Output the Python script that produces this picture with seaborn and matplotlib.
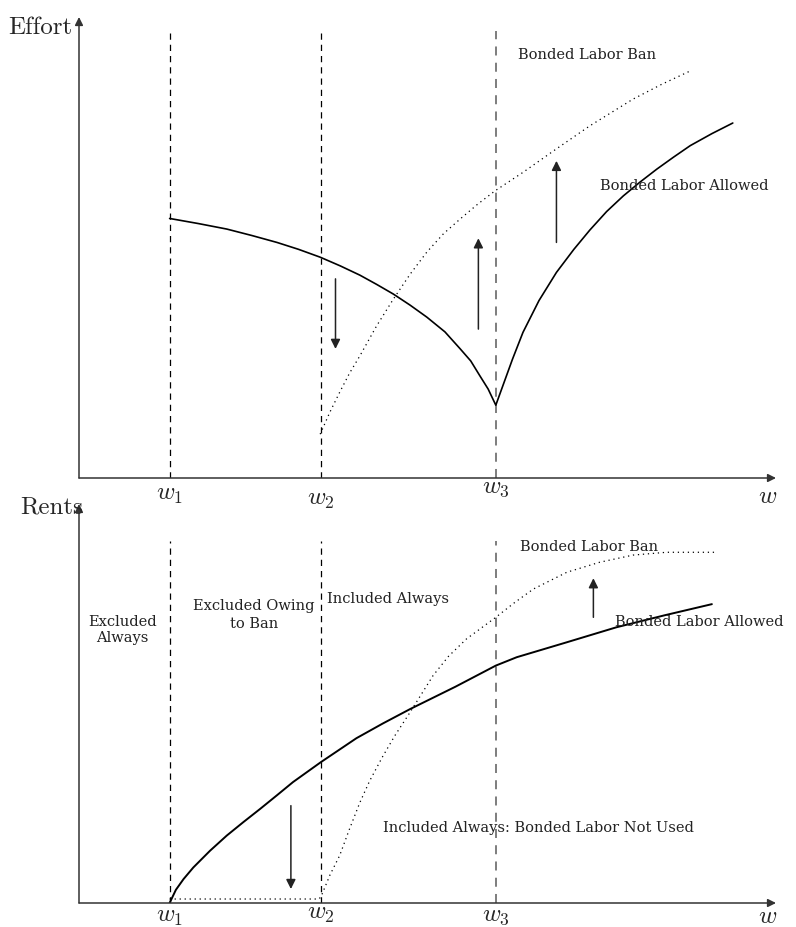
import seaborn as sns
import matplotlib.pyplot as plt
import pandas as pd
import numpy as np

# ========================================================
#                   DATA (axis units 0..10)
# ========================================================

w_pos = [1.30, 3.465, 5.98]
w_names = ["$w_1$", "$w_2$", "$w_3$"]

# top panel: effort
eff_allowed_x = [1.30, 1.71, 2.12, 2.48, 2.84, 3.15, 3.46, 3.75, 4.03, 4.27, 4.51, 4.75, 4.99, 5.25,
                 5.47, 5.62, 5.75, 5.87, 5.98,
                 6.10, 6.22, 6.37, 6.60, 6.85, 7.10, 7.33, 7.57, 7.81, 8.05, 8.29, 8.53, 8.77, 9.08, 9.38]
eff_allowed_y = [5.63, 5.52, 5.40, 5.26, 5.11, 4.96, 4.79, 4.60, 4.40, 4.20, 3.99, 3.75, 3.49, 3.17,
                 2.80, 2.54, 2.22, 1.93, 1.58,
                 2.08, 2.58, 3.16, 3.85, 4.46, 4.96, 5.38, 5.78, 6.12, 6.42, 6.70, 6.96, 7.21, 7.47, 7.70]
eff_ban_x = [3.46, 3.60, 3.74, 3.88, 4.03, 4.27, 4.51, 4.75, 4.99, 5.23, 5.47, 5.72, 5.97, 6.37,
             6.85, 7.33, 7.95, 8.36, 8.77]
eff_ban_y = [0.95, 1.43, 1.86, 2.27, 2.65, 3.30, 3.88, 4.42, 4.90, 5.30, 5.62, 5.94, 6.23, 6.63,
             7.14, 7.64, 8.22, 8.54, 8.83]

# bottom panel: rents
rent_allowed_x = [1.30, 1.39, 1.50, 1.64, 1.88, 2.12, 2.36, 2.60, 2.84, 3.07, 3.47, 3.98, 4.36, 4.75,
                  5.40, 5.98, 6.28, 6.99, 7.71, 8.40, 9.08]
rent_allowed_y = [0.00, 0.33, 0.60, 0.89, 1.31, 1.69, 2.03, 2.36, 2.70, 3.03, 3.53, 4.13, 4.50, 4.86,
                  5.42, 5.95, 6.16, 6.53, 6.91, 7.21, 7.49]
rent_ban_x = [1.30, 3.44, 3.47, 3.60, 3.74, 3.88, 4.03, 4.17, 4.35, 4.53, 4.75, 5.08, 5.30, 5.56,
              5.98, 6.25, 6.52, 7.00, 7.47, 7.95, 8.43, 9.15]
rent_ban_y = [0.10, 0.10, 0.15, 0.70, 1.19, 1.85, 2.52, 3.06, 3.65, 4.19, 4.78, 5.70, 6.18, 6.62,
              7.16, 7.53, 7.87, 8.29, 8.54, 8.72, 8.79, 8.79]

# arrows: (x, y_start, y_end)
eff_arrows = [(3.68, 4.32, 2.80), (5.73, 3.23, 5.20), (6.85, 5.11, 6.88)]
rent_arrows = [(3.04, 2.44, 0.35), (7.38, 7.16, 8.14)]

# ========================================================
#                   STYLE
# ========================================================

sns.set_style("white")
plt.rcParams['font.family'] = ['cmr10', 'DejaVu Serif']
plt.rcParams['mathtext.fontset'] = 'cm'
plt.rcParams['axes.formatter.use_mathtext'] = True

note_font = dict(family="DejaVu Serif", fontsize=10.5, color="#222222")

fig = plt.figure(figsize=(7.96, 9.28), dpi=100)
ax_top = fig.add_axes([79/796, (928-479)/928, 697/796, 461/928])
ax_bot = fig.add_axes([79/796, (928-904)/928, 697/796, 399/928])


def setup(ax, ylab, ylab_x, ylab_y, dash_top, w_label_y):
    ax.set_xlim(0, 10)
    ax.set_ylim(0, 10)
    ax.axis("off")
    arrow = dict(arrowstyle="-|>", color="#333333", lw=1.1, mutation_scale=12, shrinkA=0, shrinkB=0)
    ax.annotate("", xy=(10, 0), xytext=(0, 0), arrowprops=arrow, annotation_clip=False)
    ax.annotate("", xy=(0, 10), xytext=(0, 0), arrowprops=arrow, annotation_clip=False)
    colors = ["black", "black", "0.45"]
    widths = [0.9, 0.9, 1.3]
    for w, c, lw in zip(w_pos, colors, widths):
        ax.vlines(w, 0, dash_top, colors=c, linestyles=(0, (5, 4)), lw=lw)
    for w, name, dy in zip(w_pos, w_names, w_label_y[:3]):
        ax.text(w, dy, name, ha="center", va="center", fontsize=18, clip_on=False)
    ax.text(10 - 0.12, w_label_y[3], "$w$", ha="center", va="center", fontsize=18, clip_on=False)
    ax.text(ylab_x, ylab_y, ylab, ha="right", va="center", fontsize=18, clip_on=False)


setup(ax_top, "Effort", -0.10, 9.78, 9.70, [-0.35, -0.46, -0.2, -0.39])
setup(ax_bot, "Rents", 0.06, 9.93, 9.07, [-0.32, -0.25, -0.3, -0.33])

# curves
sns.lineplot(x=eff_allowed_x, y=eff_allowed_y, ax=ax_top, color="black", lw=1.2, sort=False, estimator=None)
sns.lineplot(x=eff_ban_x, y=eff_ban_y, ax=ax_top, color="black", lw=0.9, linestyle=(0, (1, 3)),
             sort=False, estimator=None)
sns.lineplot(x=rent_allowed_x, y=rent_allowed_y, ax=ax_bot, color="black", lw=1.4, sort=False, estimator=None)
sns.lineplot(x=rent_ban_x, y=rent_ban_y, ax=ax_bot, color="black", lw=0.9, linestyle=(0, (1, 3)),
             sort=False, estimator=None)

arrow_kw = dict(arrowstyle="-|>", color="#222222", lw=1.1, mutation_scale=14, shrinkA=0, shrinkB=0)
for ax, arrows in [(ax_top, eff_arrows), (ax_bot, rent_arrows)]:
    for x, y0, y1 in arrows:
        ax.annotate("", xy=(x, y1), xytext=(x, y0), arrowprops=arrow_kw)

# annotations
ax_top.text(6.30, 9.20, "Bonded Labor Ban", ha="left", va="center", **note_font)
ax_top.text(7.47, 6.36, "Bonded Labor Allowed", ha="left", va="center", **note_font)

ax_bot.text(0.62, 6.87, "Excluded\nAlways", ha="center", va="center", linespacing=1.2, **note_font)
ax_bot.text(2.51, 7.24, "Excluded Owing\nto Ban", ha="center", va="center", linespacing=1.3, **note_font)
ax_bot.text(3.56, 7.64, "Included Always", ha="left", va="center", **note_font)
ax_bot.text(6.33, 8.95, "Bonded Labor Ban", ha="left", va="center", **note_font)
ax_bot.text(7.69, 7.07, "Bonded Labor Allowed", ha="left", va="center", **note_font)
ax_bot.text(4.36, 1.90, "Included Always: Bonded Labor Not Used", ha="left", va="center", **note_font)

fig.savefig("out.png", dpi=100)
